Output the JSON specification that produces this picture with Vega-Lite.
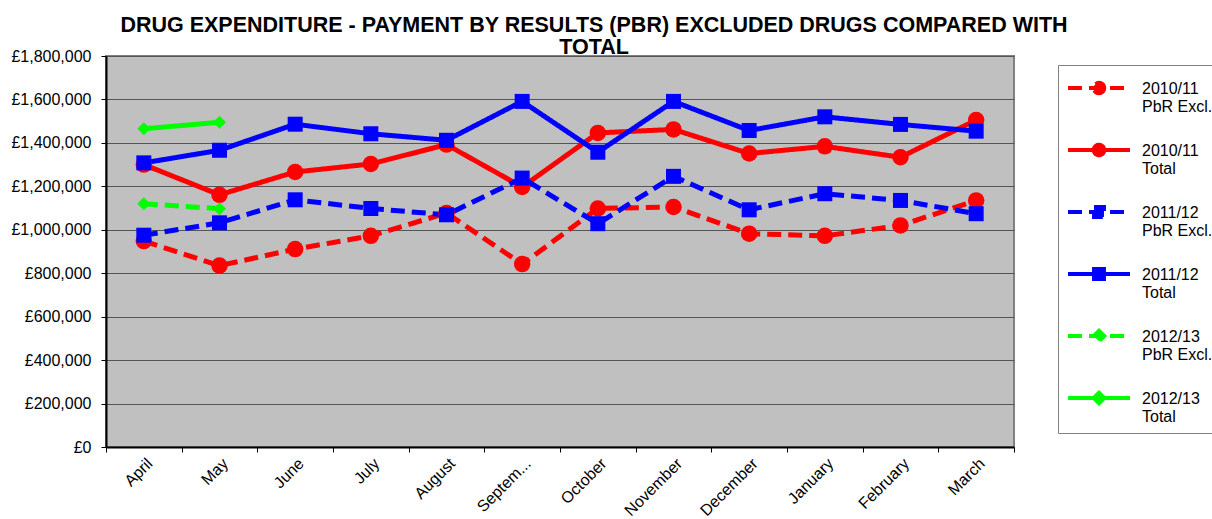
{
  "$schema": "https://vega.github.io/schema/vega-lite/v6.json",
  "width": 908,
  "height": 391,
  "autosize": {"type": "none"},
  "padding": {"left": 106, "top": 56, "right": 198, "bottom": 72},
  "background": "white",
  "title": {
    "text": ["DRUG EXPENDITURE - PAYMENT BY RESULTS (PBR) EXCLUDED DRUGS COMPARED WITH", "TOTAL"],
    "font": "Liberation Sans",
    "fontSize": 21.5,
    "fontWeight": "bold",
    "color": "black",
    "anchor": "middle",
    "dx": 34,
    "offset": -10,
    "lineHeight": 22
  },
  "config": {
    "font": "Liberation Sans",
    "view": {"fill": "#C0C0C0", "stroke": "#808080", "strokeWidth": 2}
  },
  "data": {
    "values": [
      {"month": "April", "series": "2010/11 PbR Excl.", "year": "2010/11", "value": 948000},
      {"month": "May", "series": "2010/11 PbR Excl.", "year": "2010/11", "value": 835000},
      {"month": "June", "series": "2010/11 PbR Excl.", "year": "2010/11", "value": 911000},
      {"month": "July", "series": "2010/11 PbR Excl.", "year": "2010/11", "value": 972000},
      {"month": "August", "series": "2010/11 PbR Excl.", "year": "2010/11", "value": 1077000},
      {"month": "September", "series": "2010/11 PbR Excl.", "year": "2010/11", "value": 842000},
      {"month": "October", "series": "2010/11 PbR Excl.", "year": "2010/11", "value": 1098000},
      {"month": "November", "series": "2010/11 PbR Excl.", "year": "2010/11", "value": 1105000},
      {"month": "December", "series": "2010/11 PbR Excl.", "year": "2010/11", "value": 982000},
      {"month": "January", "series": "2010/11 PbR Excl.", "year": "2010/11", "value": 972000},
      {"month": "February", "series": "2010/11 PbR Excl.", "year": "2010/11", "value": 1020000},
      {"month": "March", "series": "2010/11 PbR Excl.", "year": "2010/11", "value": 1135000},
      {"month": "April", "series": "2010/11 Total", "year": "2010/11", "value": 1300000},
      {"month": "May", "series": "2010/11 Total", "year": "2010/11", "value": 1161000},
      {"month": "June", "series": "2010/11 Total", "year": "2010/11", "value": 1266000},
      {"month": "July", "series": "2010/11 Total", "year": "2010/11", "value": 1303000},
      {"month": "August", "series": "2010/11 Total", "year": "2010/11", "value": 1392000},
      {"month": "September", "series": "2010/11 Total", "year": "2010/11", "value": 1197000},
      {"month": "October", "series": "2010/11 Total", "year": "2010/11", "value": 1446000},
      {"month": "November", "series": "2010/11 Total", "year": "2010/11", "value": 1462000},
      {"month": "December", "series": "2010/11 Total", "year": "2010/11", "value": 1351000},
      {"month": "January", "series": "2010/11 Total", "year": "2010/11", "value": 1384000},
      {"month": "February", "series": "2010/11 Total", "year": "2010/11", "value": 1334000},
      {"month": "March", "series": "2010/11 Total", "year": "2010/11", "value": 1505000},
      {"month": "April", "series": "2011/12 PbR Excl.", "year": "2011/12", "value": 975000},
      {"month": "May", "series": "2011/12 PbR Excl.", "year": "2011/12", "value": 1032000},
      {"month": "June", "series": "2011/12 PbR Excl.", "year": "2011/12", "value": 1138000},
      {"month": "July", "series": "2011/12 PbR Excl.", "year": "2011/12", "value": 1098000},
      {"month": "August", "series": "2011/12 PbR Excl.", "year": "2011/12", "value": 1069000},
      {"month": "September", "series": "2011/12 PbR Excl.", "year": "2011/12", "value": 1238000},
      {"month": "October", "series": "2011/12 PbR Excl.", "year": "2011/12", "value": 1028000},
      {"month": "November", "series": "2011/12 PbR Excl.", "year": "2011/12", "value": 1246000},
      {"month": "December", "series": "2011/12 PbR Excl.", "year": "2011/12", "value": 1092000},
      {"month": "January", "series": "2011/12 PbR Excl.", "year": "2011/12", "value": 1166000},
      {"month": "February", "series": "2011/12 PbR Excl.", "year": "2011/12", "value": 1135000},
      {"month": "March", "series": "2011/12 PbR Excl.", "year": "2011/12", "value": 1074000},
      {"month": "April", "series": "2011/12 Total", "year": "2011/12", "value": 1308000},
      {"month": "May", "series": "2011/12 Total", "year": "2011/12", "value": 1366000},
      {"month": "June", "series": "2011/12 Total", "year": "2011/12", "value": 1486000},
      {"month": "July", "series": "2011/12 Total", "year": "2011/12", "value": 1442000},
      {"month": "August", "series": "2011/12 Total", "year": "2011/12", "value": 1412000},
      {"month": "September", "series": "2011/12 Total", "year": "2011/12", "value": 1591000},
      {"month": "October", "series": "2011/12 Total", "year": "2011/12", "value": 1357000},
      {"month": "November", "series": "2011/12 Total", "year": "2011/12", "value": 1591000},
      {"month": "December", "series": "2011/12 Total", "year": "2011/12", "value": 1457000},
      {"month": "January", "series": "2011/12 Total", "year": "2011/12", "value": 1520000},
      {"month": "February", "series": "2011/12 Total", "year": "2011/12", "value": 1485000},
      {"month": "March", "series": "2011/12 Total", "year": "2011/12", "value": 1454000},
      {"month": "April", "series": "2012/13 PbR Excl.", "year": "2012/13", "value": 1120000},
      {"month": "May", "series": "2012/13 PbR Excl.", "year": "2012/13", "value": 1097000},
      {"month": "April", "series": "2012/13 Total", "year": "2012/13", "value": 1465000},
      {"month": "May", "series": "2012/13 Total", "year": "2012/13", "value": 1495000}
    ]
  },
  "encoding": {
    "x": {
      "field": "month",
      "type": "ordinal",
      "sort": ["April", "May", "June", "July", "August", "September", "October", "November", "December", "January", "February", "March"],
      "scale": {"type": "band", "paddingInner": 0, "paddingOuter": 0},
      "bandPosition": 0.5,
      "axis": {
        "title": null,
        "labelAngle": -45,
        "labelFontSize": 16,
        "labelColor": "black",
        "labelPadding": 3,
        "tickBand": "extent",
        "tickColor": "black",
        "tickSize": 5,
        "domainColor": "black",
        "domainWidth": 2,
        "grid": false,
        "labelExpr": "datum.value == 'September' ? 'Septem...' : datum.value"
      }
    },
    "y": {
      "field": "value",
      "type": "quantitative",
      "scale": {"domain": [0, 1800000], "nice": false},
      "axis": {
        "title": null,
        "values": [0, 200000, 400000, 600000, 800000, 1000000, 1200000, 1400000, 1600000, 1800000],
        "labelExpr": "'£' + format(datum.value, ',')",
        "labelFontSize": 16,
        "labelColor": "black",
        "labelPadding": 10,
        "tickColor": "black",
        "tickSize": 5,
        "domainColor": "black",
        "domainWidth": 2,
        "gridColor": "#555555",
        "gridWidth": 1
      }
    },
    "color": {
      "field": "series",
      "type": "nominal",
      "scale": {
        "domain": ["2010/11 PbR Excl.", "2010/11 Total", "2011/12 PbR Excl.", "2011/12 Total", "2012/13 PbR Excl.", "2012/13 Total"],
        "range": ["#FF0000", "#FF0000", "#0000FF", "#0000FF", "#00FF00", "#00FF00"]
      },
      "legend": {
        "orient": "none",
        "legendX": 952,
        "legendY": 9,
        "title": null,
        "symbolType": "stroke",
        "symbolSize": 3844,
        "symbolStrokeWidth": 4,
        "labelFont": "Liberation Sans",
        "labelFontSize": 16,
        "labelColor": "black",
        "labelLimit": 0,
        "labelOffset": 10,
        "labelBaseline": "alphabetic",
        "labelExpr": "[slice(datum.label, 0, 7), slice(datum.label, 8)]",
        "padding": 8,
        "rowPadding": 20,
        "strokeColor": "#808080",
        "fillColor": "white",
        "encode": {
          "symbols": {
            "update": {
              "y": {"value": 15},
              "fill": {"scale": "color", "field": "value"},
              "shape": {"signal": "indexof(datum.value, '2010') == 0 ? 'M-1,0H1M0.17,0A0.17,0.17,0,1,1,-0.17,0A0.17,0.17,0,1,1,0.17,0Z' : indexof(datum.value, '2011') == 0 ? 'M-1,0H1M-0.16,-0.16H0.16V0.16H-0.16Z' : 'M-1,0H1M0,-0.17L0.17,0L0,0.17L-0.17,0Z'"}
            }
          },
          "labels": {"update": {"y": {"value": 15}, "dy": {"value": 6}}}
        }
      }
    }
  },
  "layer": [
    {
      "mark": {"type": "line", "strokeWidth": 5},
      "encoding": {
        "strokeDash": {
          "field": "series",
          "type": "nominal",
          "scale": {
            "domain": ["2010/11 PbR Excl.", "2010/11 Total", "2011/12 PbR Excl.", "2011/12 Total", "2012/13 PbR Excl.", "2012/13 Total"],
            "range": [[14, 7], [1, 0], [14, 7], [1, 0], [14, 7], [1, 0]]
          },
          "legend": {
            "orient": "none",
            "legendX": 952,
            "legendY": 9,
            "title": null,
            "symbolType": "stroke",
            "symbolSize": 3844,
            "symbolStrokeWidth": 4,
            "labelFont": "Liberation Sans",
            "labelFontSize": 16,
            "labelColor": "black",
            "labelLimit": 0,
            "labelOffset": 10,
            "labelBaseline": "alphabetic",
            "labelExpr": "[slice(datum.label, 0, 7), slice(datum.label, 8)]",
            "padding": 8,
            "rowPadding": 20,
            "strokeColor": "#808080",
            "fillColor": "white",
            "encode": {
              "symbols": {
                "update": {
                  "y": {"value": 15},
                  "fill": {"scale": "color", "field": "value"},
                  "shape": {"signal": "indexof(datum.value, '2010') == 0 ? 'M-1,0H1M0.17,0A0.17,0.17,0,1,1,-0.17,0A0.17,0.17,0,1,1,0.17,0Z' : indexof(datum.value, '2011') == 0 ? 'M-1,0H1M-0.16,-0.16H0.16V0.16H-0.16Z' : 'M-1,0H1M0,-0.17L0.17,0L0,0.17L-0.17,0Z'"}
                }
              },
              "labels": {"update": {"y": {"value": 15}, "dy": {"value": 6}}}
            }
          }
        }
      }
    },
    {
      "transform": [{"filter": "datum.year == '2010/11'"}],
      "mark": {"type": "point", "shape": "circle", "size": 272, "filled": true, "opacity": 1}
    },
    {
      "transform": [{"filter": "datum.year == '2011/12'"}],
      "mark": {"type": "point", "shape": "square", "size": 225, "filled": true, "opacity": 1}
    },
    {
      "transform": [{"filter": "datum.year == '2012/13'"}],
      "mark": {"type": "point", "shape": "diamond", "size": 170, "filled": true, "opacity": 1}
    }
  ]
}
